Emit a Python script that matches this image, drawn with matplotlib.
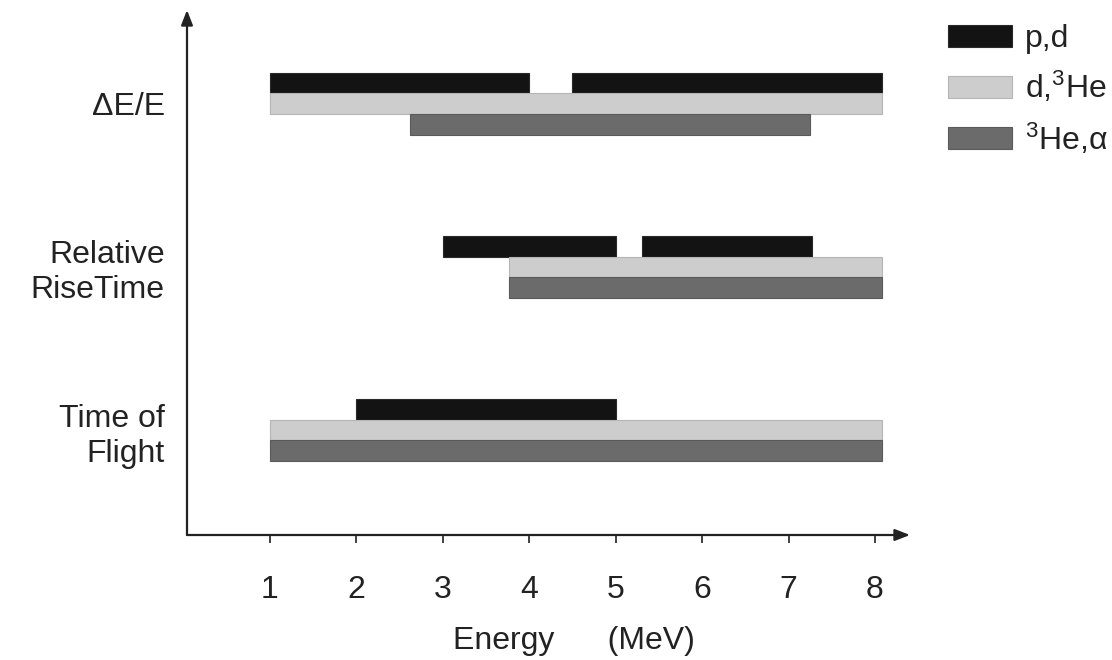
import matplotlib
matplotlib.use("Agg")
import matplotlib.pyplot as plt
from matplotlib.patches import Patch

plt.rcParams['font.family'] = ['Liberation Sans', 'DejaVu Sans']
plt.rcParams['mathtext.fontset'] = 'custom'
plt.rcParams['mathtext.rm'] = 'Liberation Sans'
plt.rcParams['mathtext.it'] = 'Liberation Sans'
plt.rcParams['mathtext.default'] = 'regular'

# Data
rows = ["Time of\nFlight", "Relative\nRiseTime", "ΔE/E"]
series = ["p,d", "d,$^3$He", "$^3$He,α"]
# energy ranges (start, end) in MeV, per series, per row (same order as rows)
pd_ranges = [[(2.0, 5.0)], [(3.0, 5.0), (5.3, 7.27)], [(1.0, 4.0), (4.5, 8.08)]]
dhe_ranges = [[(1.0, 8.08)], [(3.77, 8.08)], [(1.0, 8.08)]]
hea_ranges = [[(1.0, 8.08)], [(3.77, 8.08)], [(2.62, 7.25)]]
xticks = [1, 2, 3, 4, 5, 6, 7, 8]

colors = ["#131313", "#cdcdcd", "#6b6b6b"]
edges = ["#2a2a2a", "#b5b5b5", "#5a5a5a"]
txt = '#222222'

W, H = 1112, 660
fig = plt.figure(figsize=(W / 100, H / 100), dpi=100)
ax = fig.add_axes([187 / W, 125 / H, (910 - 187) / W, (535 - 10) / H])

h = 0.126
offsets = [h, 0.0, -h]
for k, ranges in enumerate([pd_ranges, dhe_ranges, hea_ranges]):
    for i, segs in enumerate(ranges):
        for (s, e) in segs:
            ax.barh(i + 1 + offsets[k], e - s, left=s, height=h,
                    color=colors[k], edgecolor=edges[k], linewidth=0.8)

ax.set_xlim(0.04, 8.405)
ax.set_ylim(0.357, 3.574)

for sp in ax.spines.values():
    sp.set_visible(False)

arrow = dict(arrowstyle='-|>,head_length=0.9,head_width=0.35', color='#222222',
             lw=1.6, shrinkA=0, shrinkB=0)
ax.annotate('', xy=(1, 0), xytext=(0, 0), xycoords='axes fraction',
            textcoords='axes fraction', arrowprops=arrow)
ax.annotate('', xy=(0, 1), xytext=(0, 0), xycoords='axes fraction',
            textcoords='axes fraction', arrowprops=arrow)

ax.set_xticks(xticks)
ax.set_xticklabels([str(t) for t in xticks])
ax.tick_params(axis='x', direction='out', length=6, width=1.3, color='#333333',
               pad=23, labelsize=23, labelcolor=txt)
ax.set_yticks([1, 2, 3])
ax.set_yticklabels(rows, linespacing=1.22)
ax.tick_params(axis='y', length=0, pad=16, labelsize=23, labelcolor=txt)

fig.text(574 / W, 1 - 641 / H, "Energy      (MeV)", ha='center', va='center',
         fontsize=23, color=txt)

handles = [Patch(facecolor=c, edgecolor=e, linewidth=0.8) for c, e in zip(colors, edges)]
leg = fig.legend(handles, series, loc='upper left',
                 bbox_to_anchor=(948 / W, 1 - 24 / H), frameon=False,
                 fontsize=23, handlelength=2.0, handleheight=0.67,
                 handletextpad=0.4, labelspacing=0.5, borderpad=0,
                 borderaxespad=0)
for t in leg.get_texts():
    t.set_color(txt)

fig.savefig("out.png", dpi=100, facecolor='white')
